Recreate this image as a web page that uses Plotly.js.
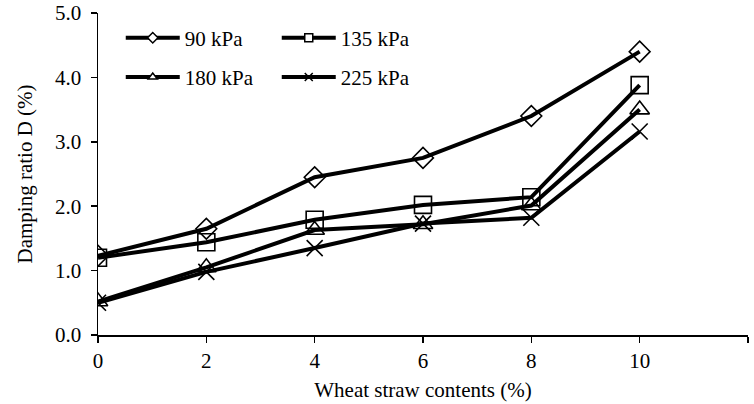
<!DOCTYPE html>
<html>
<head>
<meta charset="utf-8">
<script src="https://cdn.plot.ly/plotly-3.0.1.min.js"></script>
<style>html,body{margin:0;padding:0;background:#fff;}#chart{width:754px;height:404px;}</style>
</head>
<body>
<div id="chart"></div>
<script>
const strawContent = [0, 2, 4, 6, 8, 10];
const seriesNames = ["90 kPa", "135 kPa", "180 kPa", "225 kPa"];
const d90 = [1.23, 1.65, 2.45, 2.75, 3.40, 4.40];
const d135 = [1.20, 1.44, 1.79, 2.02, 2.14, 3.88];
const d180 = [0.52, 1.05, 1.63, 1.72, 2.01, 3.50];
const d225 = [0.50, 0.98, 1.35, 1.73, 1.82, 3.16];
const xTicks = [0, 2, 4, 6, 8, 10, 12];
const yTicks = [0, 1, 2, 3, 4, 5];

const plotSymbols = ["diamond-open", "square-open", "triangle-up-open", "x-thin-open"];
const legendSymbols = ["diamond", "square", "triangle-up", "x-thin"];
const legendColors = ["#fff", "#fff", "#fff", "#000"];
const sizes = [16, 17, 17, 16];
const legendSizes = [8, 8, 8, 8];
const legendIds = ["legend", "legend", "legend2", "legend2"];
const allData = [d90, d135, d180, d225];

const font = "'Liberation Serif', 'Times New Roman', serif";
const traces = allData.map((ys, i) => ({
  x: strawContent, y: ys, name: seriesNames[i], type: "scatter", mode: "lines+markers",
  line: {color: "#000", width: 4},
  marker: {symbol: plotSymbols[i], size: sizes[i], color: "#000", line: {color: "#000", width: 1.6}},
  showlegend: false
}));
// legend-only entries (no points) so legend symbols can be smaller, as in the reference
const legendTraces = seriesNames.map((nm, i) => ({
  x: [null], y: [null], name: nm, type: "scatter", mode: "lines+markers",
  line: {color: "#000", width: 4},
  marker: {symbol: legendSymbols[i], size: legendSizes[i], color: legendColors[i], line: {color: "#000", width: 1.5}},
  legend: legendIds[i], hoverinfo: "skip"
}));

const legendCommon = {orientation: "h", xanchor: "left", yanchor: "middle", font: {family: font, size: 21, color: "#000"},
  bgcolor: "rgba(0,0,0,0)", entrywidth: 87, entrywidthmode: "pixels", itemwidth: 54, tracegroupgap: 0,
  itemsizing: "trace"};

const layout = {
  width: 754, height: 404,
  margin: {l: 98, r: 6, t: 13, b: 69},
  paper_bgcolor: "#fff", plot_bgcolor: "#fff",
  font: {family: font, size: 21, color: "#000"},
  showlegend: true,
  legend: Object.assign({x: 0.035, y: 0.922}, legendCommon),
  legend2: Object.assign({x: 0.035, y: 0.80}, legendCommon),
  xaxis: {
    range: [0, 12], tickvals: xTicks, ticktext: xTicks.map(String),
    showline: true, linecolor: "#000", linewidth: 1.5, ticks: "outside", ticklen: 6, tickwidth: 1.5, tickcolor: "#000",
    showgrid: false, zeroline: false, tickfont: {family: font, size: 21},
    title: {text: "Wheat straw contents (%)", font: {family: font, size: 21}, standoff: 10}
  },
  yaxis: {
    range: [0, 5], tickvals: yTicks, ticktext: yTicks.map(v => v.toFixed(1)),
    showline: true, linecolor: "#000", linewidth: 1.5, ticks: "outside", ticklen: 6, tickwidth: 1.5, tickcolor: "#000",
    ticklabelstandoff: 5,
    showgrid: false, zeroline: false, tickfont: {family: font, size: 21},
    title: {text: "Damping ratio D (%)", font: {family: font, size: 21}, standoff: 16}
  }
};

Plotly.newPlot("chart", traces.concat(legendTraces), layout, {displayModeBar: false, staticPlot: true});
</script>
</body>
</html>
